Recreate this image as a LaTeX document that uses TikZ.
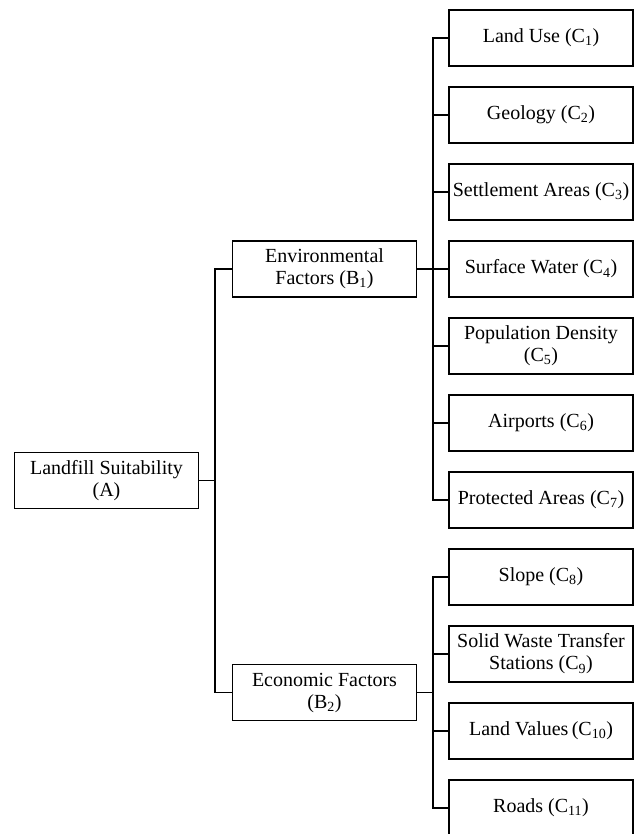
\documentclass[tikz,border=0pt]{standalone}
\usepackage{fontspec}
\setmainfont{Liberation Serif}
\begin{document}
\begin{tikzpicture}[x=1pt,y=-1pt,
  bx/.style={draw, line width=1.2pt, minimum width=184pt, minimum height=56pt,
    align=center, inner sep=0pt, font=\fontsize{20}{22}\selectfont},
  ln/.style={line width=1.2pt}]
\useasboundingbox (0,0) rectangle (636,834);
% level A
\node[bx] (A) at (106.5,480.5) {Landfill Suitability\\(A)};
% level B
\node[bx] (B1) at (324.5,269) {Environmental\\Factors (B\textsubscript{1})};
\node[bx] (B2) at (324.5,692.5) {Economic Factors\\(B\textsubscript{2})};
% level C
\node[bx] (C1) at (541,38) {Land Use (C\textsubscript{1})};
\node[bx] (C2) at (541,115) {Geology (C\textsubscript{2})};
\node[bx] (C3) at (541,192) {Settlement Areas (C\textsubscript{3})};
\node[bx] (C4) at (541,269) {Surface Water (C\textsubscript{4})};
\node[bx] (C5) at (541,346) {Population Density\\(C\textsubscript{5})};
\node[bx] (C6) at (541,423) {Airports (C\textsubscript{6})};
\node[bx] (C7) at (541,500) {Protected Areas (C\textsubscript{7})};
\node[bx] (C8) at (541,577) {Slope (C\textsubscript{8})};
\node[bx] (C9) at (541,654) {Solid Waste Transfer\\Stations (C\textsubscript{9})};
\node[bx] (C10) at (541,731) {Land Values\,(C\textsubscript{10})};
\node[bx] (C11) at (541,808) {Roads (C\textsubscript{11})};
% junctions
\coordinate (tA) at (215,480.5);
\coordinate (t1) at (433,269);
\coordinate (t2) at (433,692.5);
% connectors A-B
\draw[ln] (A.east) -- (tA);
\draw[ln] (B1.west) -| (tA) |- (B2.west);
% connectors B1-C
\draw[ln] (B1.east) -- (t1);
\draw[ln] (C1.west) -| (t1) |- (C7.west);
\foreach \c in {C2,C3,C4,C5,C6} \draw[ln] (\c.west) -- (t1 |- \c.west);
% connectors B2-C
\draw[ln] (B2.east) -- (t2);
\draw[ln] (C8.west) -| (t2) |- (C11.west);
\foreach \c in {C9,C10} \draw[ln] (\c.west) -- (t2 |- \c.west);
\end{tikzpicture}
\end{document}
